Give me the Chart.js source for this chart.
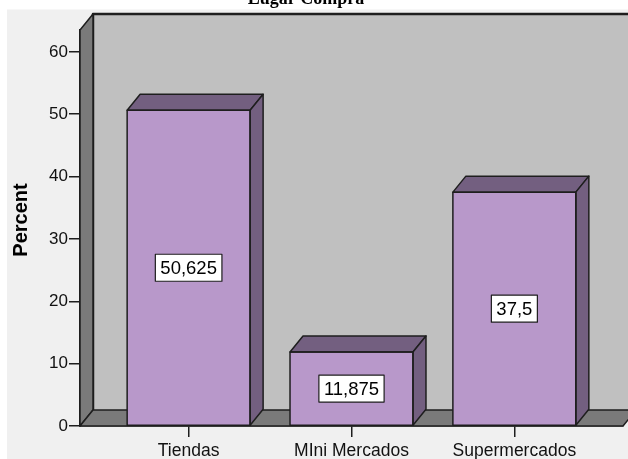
<!DOCTYPE html>
<html>
<head>
<meta charset="utf-8">
<script src="https://cdn.jsdelivr.net/npm/chart.js@4/dist/chart.umd.min.js"></script>
<style>
  html, body { margin: 0; padding: 0; background: #ffffff; }
  #wrap { position: relative; width: 628px; height: 459px; }
  canvas { display: block; }
</style>
</head>
<body>
<div id="wrap"><canvas id="c" width="628" height="459"></canvas></div>
<script>
// Purchase place shares (percent)
const categories = ['Tiendas', 'MIni Mercados', 'Supermercados'];
const percents = [50.625, 11.875, 37.5];
const yTicks = [0, 10, 20, 30, 40, 50, 60];
const chartTitle = 'Lugar Compra';
const yTitle = 'Percent';

// Depth of the pseudo-3D box (pixels, right and up)
const DX = 13, DY = -16;
const FONT = '"Liberation Sans", Arial, sans-serif';

const fmt = v => String(v).replace('.', ',');

const box3d = {
  id: 'box3d',
  beforeDraw(chart) {
    const ctx = chart.ctx;
    ctx.save();
    // panel background
    ctx.fillStyle = '#ffffff';
    ctx.fillRect(0, 0, chart.width, chart.height);
    ctx.fillStyle = '#f0f0f0';
    ctx.fillRect(7, 9.5, chart.width - 7, chart.height - 9.5);
    // title (partly clipped by the top edge)
    ctx.fillStyle = '#000';
    ctx.font = 'bold 18px "Liberation Serif", "Times New Roman", serif';
    ctx.textAlign = 'center';
    ctx.textBaseline = 'alphabetic';
    ctx.fillText(chartTitle, 306, 4);
    ctx.restore();
  },
  beforeDatasetsDraw(chart) {
    const ctx = chart.ctx;
    const a = chart.chartArea;
    ctx.save();
    ctx.lineJoin = 'round';
    ctx.strokeStyle = '#1e1e1e';
    ctx.lineWidth = 1.5;
    // back wall
    ctx.fillStyle = '#c0c0c0';
    ctx.beginPath();
    ctx.rect(a.left + DX, a.top + DY, a.right - a.left + 20, a.bottom - a.top);
    ctx.fill();
    ctx.beginPath();
    ctx.moveTo(a.left + DX, a.bottom + DY);
    ctx.lineTo(a.left + DX, a.top + DY);
    ctx.lineTo(chart.width + 5, a.top + DY);
    ctx.lineWidth = 2.5;
    ctx.stroke();
    ctx.lineWidth = 1.5;
    // left wall
    ctx.fillStyle = '#7a7a7a';
    ctx.beginPath();
    ctx.moveTo(a.left, a.top);
    ctx.lineTo(a.left + DX, a.top + DY);
    ctx.lineTo(a.left + DX, a.bottom + DY);
    ctx.lineTo(a.left, a.bottom);
    ctx.closePath();
    ctx.fill();
    ctx.stroke();
    // floor
    ctx.beginPath();
    ctx.moveTo(a.left, a.bottom);
    ctx.lineTo(a.left + DX, a.bottom + DY);
    ctx.lineTo(a.right + DX, a.bottom + DY);
    ctx.lineTo(a.right, a.bottom);
    ctx.closePath();
    ctx.fill();
    ctx.stroke();
    ctx.restore();
  },
  afterDatasetsDraw(chart) {
    const ctx = chart.ctx;
    const meta = chart.getDatasetMeta(0);
    ctx.save();
    ctx.lineJoin = 'round';
    ctx.strokeStyle = '#1e1e1e';
    ctx.lineWidth = 1.5;
    meta.data.forEach((bar, i) => {
      const p = bar.getProps(['x', 'y', 'base', 'width'], true);
      const l = p.x - p.width / 2, r = p.x + p.width / 2;
      ctx.fillStyle = '#735f80';
      // top face
      ctx.beginPath();
      ctx.moveTo(l, p.y);
      ctx.lineTo(l + DX, p.y + DY);
      ctx.lineTo(r + DX, p.y + DY);
      ctx.lineTo(r, p.y);
      ctx.closePath();
      ctx.fill();
      ctx.stroke();
      // side face
      ctx.beginPath();
      ctx.moveTo(r, p.y);
      ctx.lineTo(r + DX, p.y + DY);
      ctx.lineTo(r + DX, p.base + DY);
      ctx.lineTo(r, p.base);
      ctx.closePath();
      ctx.fill();
      ctx.stroke();
      // front face outline
      ctx.strokeRect(l, p.y, p.width, p.base - p.y);
      // value label
      const txt = fmt(percents[i]);
      ctx.font = '18.5px ' + FONT;
      const tw = ctx.measureText(txt).width;
      const cy = (p.y + p.base) / 2;
      const bw = tw + 10, bh = 27;
      ctx.fillStyle = '#ffffff';
      ctx.fillRect(p.x - bw / 2, cy - bh / 2, bw, bh);
      ctx.lineWidth = 1.2;
      ctx.strokeRect(p.x - bw / 2, cy - bh / 2, bw, bh);
      ctx.lineWidth = 1.5;
      ctx.fillStyle = '#000';
      ctx.textAlign = 'center';
      ctx.textBaseline = 'middle';
      ctx.fillText(txt, p.x, cy + 1);
    });
    // y axis title
    ctx.save();
    ctx.translate(21, 220);
    ctx.rotate(-Math.PI / 2);
    ctx.font = 'bold 20px ' + FONT;
    ctx.fillStyle = '#000';
    ctx.textAlign = 'center';
    ctx.textBaseline = 'middle';
    ctx.fillText(yTitle, 0, 0);
    ctx.restore();
    ctx.restore();
  }
};

new Chart(document.getElementById('c'), {
  type: 'bar',
  data: {
    datasets: [{
      data: percents.map((v, i) => ({ x: i, y: v })),
      backgroundColor: '#b898ca',
      borderWidth: 0,
      barPercentage: 0.755,
      categoryPercentage: 1
    }]
  },
  options: {
    responsive: false,
    animation: false,
    devicePixelRatio: 1,
    layout: { padding: { left: 0, right: 5, top: 30, bottom: 0 } },
    plugins: { legend: { display: false }, tooltip: { enabled: false }, title: { display: false } },
    scales: {
      x: {
        type: 'linear',
        offset: false,
        min: -0.667,
        max: 2.667,
        afterBuildTicks: s => { s.ticks = categories.map((_, i) => ({ value: i })); },
        afterFit: s => { s.height = 33; },
        grid: { display: true, offset: false, drawOnChartArea: false, drawTicks: true, tickLength: 11, color: '#1e1e1e', lineWidth: 1.5 },
        border: { display: true, color: '#1e1e1e', width: 1.5 },
        ticks: {
          callback: v => categories[v],
          autoSkip: false,
          maxRotation: 0,
          padding: 4,
          color: '#111',
          font: { family: FONT, size: 17.5 }
        }
      },
      y: {
        min: 0,
        max: 63.5,
        afterBuildTicks: s => { s.ticks = yTicks.map(v => ({ value: v })); },
        afterFit: s => { s.width = 80; },
        grid: { display: true, drawOnChartArea: false, drawTicks: true, tickLength: 11, color: '#1e1e1e', lineWidth: 1.5 },
        border: { display: true, color: '#1e1e1e', width: 1.5 },
        ticks: {
          includeBounds: false,
          padding: 1,
          color: '#111',
          font: { family: FONT, size: 17 }
        }
      }
    }
  },
  plugins: [box3d]
});
</script>
</body>
</html>
